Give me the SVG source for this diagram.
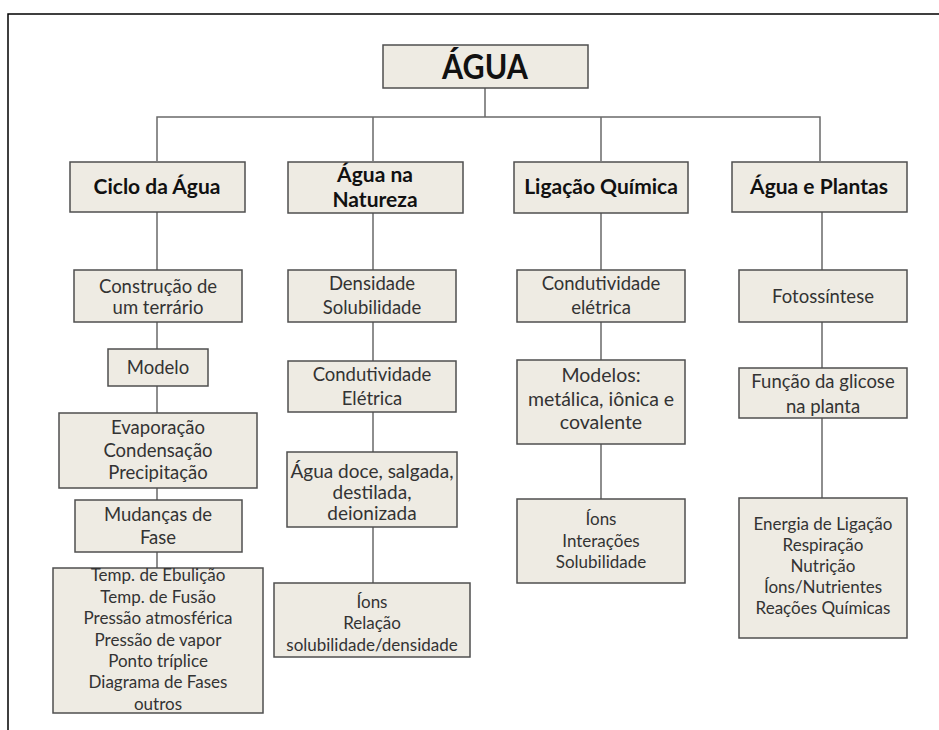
<svg xmlns="http://www.w3.org/2000/svg" width="939" height="730" viewBox="0 0 939 730">
<style>
.box{fill:#eeebe3;stroke:#4f4f4f;stroke-width:1.5}
.t{font-family:Lato,"Liberation Sans",sans-serif;font-size:18.5px;fill:#333;text-anchor:middle}
.s{font-size:17px}
.m{font-size:17px}
.l{font-size:19.5px}
.h{font-family:Lato,"Liberation Sans",sans-serif;font-size:21px;font-weight:bold;fill:#111;text-anchor:middle}
.c{stroke:#6a6a6a;stroke-width:1.5;fill:none}
</style>
<rect width="939" height="730" fill="#fff"/>
<path d="M8 730 V14 H939" fill="none" stroke="#000" stroke-width="1.5"/>
<g id="connectors">
<path class="c" d="M485 88 V117 M157 161 V117 H820 V161 M373 117 V161 M601 117 V161"/>
<path class="c" d="M157 212 V270 M157 322 V349 M157 386 V413 M157 488 V500 M157 552 V568"/>
<path class="c" d="M373 213 V270 M373 322 V361 M373 412 V452 M373 527 V583"/>
<path class="c" d="M601 213 V270 M601 322 V360 M601 444 V499"/>
<path class="c" d="M822 212 V270 M822 322 V368 M822 418 V498"/>
</g>
<g id="agua"><rect class="box" x="383" y="45" width="205" height="43"/><text class="h" transform="translate(485 79) scale(0.87 1)" style="font-size:35px">ÁGUA</text></g>
<g id="ciclo"><rect class="box" x="70" y="162" width="175" height="50"/><text class="h" x="157" y="194">Ciclo da Água</text></g>
<g id="natureza"><rect class="box" x="288" y="162" width="175" height="51"/><text class="h" x="375" y="182">Água na</text><text class="h" x="375" y="207">Natureza</text></g>
<g id="ligacao"><rect class="box" x="514" y="162" width="174" height="51"/><text class="h" x="601" y="194">Ligação Química</text></g>
<g id="plantas"><rect class="box" x="732" y="162" width="175" height="50"/><text class="h" x="819" y="194">Água e Plantas</text></g>

<g id="construcao"><rect class="box" x="74" y="270" width="168" height="52"/><text class="t" x="158" y="293">Construção de</text><text class="t" x="158" y="314">um terrário</text></g>
<g id="modelo"><rect class="box" x="108" y="349" width="100" height="37"/><text class="t" x="158" y="374">Modelo</text></g>
<g id="evaporacao"><rect class="box" x="59" y="413" width="198" height="75"/><text class="t" x="158" y="434">Evaporação</text><text class="t" x="158" y="457">Condensação</text><text class="t" x="158" y="479">Precipitação</text></g>
<g id="mudancas"><rect class="box" x="75" y="500" width="167" height="52"/><text class="t" x="158" y="521">Mudanças de</text><text class="t" x="158" y="544">Fase</text></g>
<g id="temp"><rect class="box" x="53" y="568" width="210" height="145"/>
<text class="t m" x="158" y="581">Temp. de Ebulição</text><text class="t m" x="158" y="603">Temp. de Fusão</text><text class="t m" x="158" y="624">Pressão atmosférica</text><text class="t m" x="158" y="646">Pressão de vapor</text><text class="t m" x="158" y="667">Ponto tríplice</text><text class="t m" x="158" y="688">Diagrama de Fases</text><text class="t m" x="158" y="710">outros</text></g>

<g id="densidade"><rect class="box" x="288" y="270" width="168" height="52"/><text class="t" x="372" y="290">Densidade</text><text class="t" x="372" y="314">Solubilidade</text></g>
<g id="condutividade1"><rect class="box" x="288" y="361" width="168" height="51"/><text class="t" x="372" y="381">Condutividade</text><text class="t" x="372" y="405">Elétrica</text></g>
<g id="aguadoce"><rect class="box" x="287" y="452" width="170" height="75"/><text class="t" x="372" y="478" style="font-size:19px">Água doce, salgada,</text><text class="t" x="372" y="499" style="font-size:19px">destilada,</text><text class="t" x="372" y="520" style="font-size:19px">deionizada</text></g>
<g id="ions1"><rect class="box" x="274" y="583" width="196" height="74"/><text class="t s" x="372" y="608">Íons</text><text class="t s" x="372" y="629">Relação</text><text class="t s" x="372" y="651">solubilidade/densidade</text></g>

<g id="condutividade2"><rect class="box" x="517" y="270" width="168" height="52"/><text class="t" x="601" y="290">Condutividade</text><text class="t" x="601" y="314">elétrica</text></g>
<g id="modelos"><rect class="box" x="517" y="360" width="168" height="84"/><text class="t l" x="601" y="382">Modelos:</text><text class="t l" x="601" y="406">metálica, iônica e</text><text class="t l" x="601" y="429">covalente</text></g>
<g id="ions2"><rect class="box" x="517" y="499" width="168" height="84"/><text class="t s" x="601" y="525">Íons</text><text class="t s" x="601" y="547">Interações</text><text class="t s" x="601" y="568">Solubilidade</text></g>

<g id="fotossintese"><rect class="box" x="739" y="270" width="168" height="52"/><text class="t" x="823" y="303">Fotossíntese</text></g>
<g id="funcao"><rect class="box" x="739" y="368" width="168" height="50"/><text class="t" x="823" y="388">Função da glicose</text><text class="t" x="823" y="413">na planta</text></g>
<g id="energia"><rect class="box" x="739" y="498" width="168" height="140"/><text class="t s" x="823" y="530">Energia de Ligação</text><text class="t s" x="823" y="551">Respiração</text><text class="t s" x="823" y="572">Nutrição</text><text class="t s" x="823" y="593">Íons/Nutrientes</text><text class="t s" x="823" y="614">Reações Químicas</text></g>
</svg>
